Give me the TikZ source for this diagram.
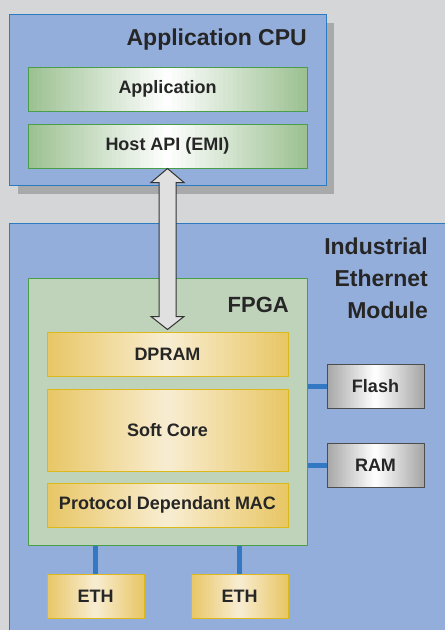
\documentclass[tikz,border=0pt]{standalone}
\usepackage{fontspec}
\setmainfont{Liberation Sans}
\usetikzlibrary{calc,shadows}

\definecolor{bggray}{HTML}{D5D6D8}
\definecolor{shadowgray}{HTML}{A8A9AB}
\definecolor{bluefill}{HTML}{94AEDB}
\definecolor{blueline}{HTML}{2C7BC0}
\definecolor{fpgafill}{HTML}{BFD2BA}
\definecolor{greenline}{HTML}{4A9E4A}
\definecolor{greenedge}{HTML}{9BC091}
\definecolor{yellowedge}{HTML}{E8C665}
\definecolor{yellowmid}{HTML}{F8EDD2}
\definecolor{yellowline}{HTML}{DDB81C}
\definecolor{grayedge}{HTML}{A6A6A6}
\definecolor{grayline}{HTML}{4D4D4D}
\definecolor{linkblue}{HTML}{3378C2}
\definecolor{txt}{HTML}{262626}

% horizontal gradient edge -> middle -> edge, drawn in strips
\tikzset{gradfill/.style 2 args={path picture={
  \foreach \i in {0,...,59}{
    \pgfmathsetmacro\t{abs(\i+0.5-30)/30*100}
    \fill [#1!\t!#2] ($(path picture bounding box.south west)!{\i/60}!(path picture bounding box.south east)$)
      rectangle ($(path picture bounding box.north west)!{(\i+1.4)/60}!(path picture bounding box.north east)$);
  }}}}

\begin{document}
\begin{tikzpicture}[x=1pt,y=-1pt]
\tikzstyle{every node}+=[inner sep=0pt, text=txt, font=\bfseries\fontsize{18}{22}\selectfont]
\tikzstyle{box}=[rectangle, draw, line width=1pt]
\tikzstyle{bluebox}=[box, draw=blueline, fill=bluefill]
\tikzstyle{greenbox}=[box, draw=greenline, gradfill={greenedge}{white}]
\tikzstyle{yellowbox}=[box, draw=yellowline, gradfill={yellowedge}{yellowmid}]
\tikzstyle{graybox}=[box, draw=grayline, gradfill={grayedge}{white}]
\tikzstyle{titletext}=[font=\bfseries\fontsize{23}{32}\selectfont]
\tikzstyle{link}=[draw=linkblue, line width=5pt]
\tikzstyle{bigarrow}=[draw=black!80, line width=1pt, fill=black!12, line join=miter]
\useasboundingbox (0,0) rectangle (445,630);
\clip (0,0) rectangle (445,630);
\fill [bggray] (0,0) rectangle (445,630);
% module and cpu
\node [bluebox, minimum width=450.5pt, minimum height=427pt] (module) at (234.75,436.5) {};
\node [bluebox, minimum width=316.5pt, minimum height=171pt,
  drop shadow={shadow xshift=8pt, shadow yshift=-9pt, opacity=1, fill=shadowgray}] (cpu) at (167.75,99.5) {};
\node [titletext, anchor=base east] (cputitle) at (307,45) {Application CPU};
\node [titletext, anchor=north east, align=right] (modtitle) at (428,238) {Industrial\\Ethernet\\Module};
\node [greenbox, minimum width=279pt, minimum height=44pt] (app) at (167.5,89) {Application};
\node [greenbox, minimum width=279pt, minimum height=44pt] (host) at (167.5,146) {Host API (EMI)};
% fpga
\node [box, draw=greenline, fill=fpgafill, minimum width=279pt, minimum height=267pt] (fpga) at (167.5,411.5) {};
\node [titletext, font=\bfseries\fontsize{22}{26}\selectfont, anchor=base east] (fpgatitle) at (289,312) {FPGA};
\node [yellowbox, minimum width=241pt, minimum height=44pt] (dpram) at (167.5,354) {DPRAM};
\node [yellowbox, minimum width=241pt, minimum height=82pt] (soft) at (167.5,430) {Soft Core};
\node [yellowbox, minimum width=241pt, minimum height=44pt] (mac) at (167.5,505) {Protocol Dependant MAC};
% memories and phys
\node [graybox, minimum width=97pt, minimum height=44pt] (flash) at (375.5,386) {Flash};
\node [graybox, minimum width=97pt, minimum height=44pt] (ram) at (375.5,465) {RAM};
\node [yellowbox, minimum width=97pt, minimum height=44pt] (ethA) at (95.5,596) {ETH};
\node [yellowbox, minimum width=97pt, minimum height=44pt] (ethB) at (239.5,596) {ETH};
\draw [link] (flash.west) -- (flash.west -| fpga.east);
\draw [link] (ram.west) -- (ram.west -| fpga.east);
\draw [link] (ethA.north) -- (ethA.north |- fpga.south);
\draw [link] (ethB.north) -- (ethB.north |- fpga.south);
% host <-> dpram
\draw [bigarrow] (host.south) -- ++(16.5,14) -- ++(-8,0) -- ($(dpram.north)+(8.5,-15)$) -- ++(8,0)
  -- ($(dpram.north)+(0,-2)$) -- ++(-16.5,-13) -- ++(8,0) -- ($(host.south)+(-8.5,14)$) -- ++(-8,0) -- cycle;
\end{tikzpicture}
\end{document}
